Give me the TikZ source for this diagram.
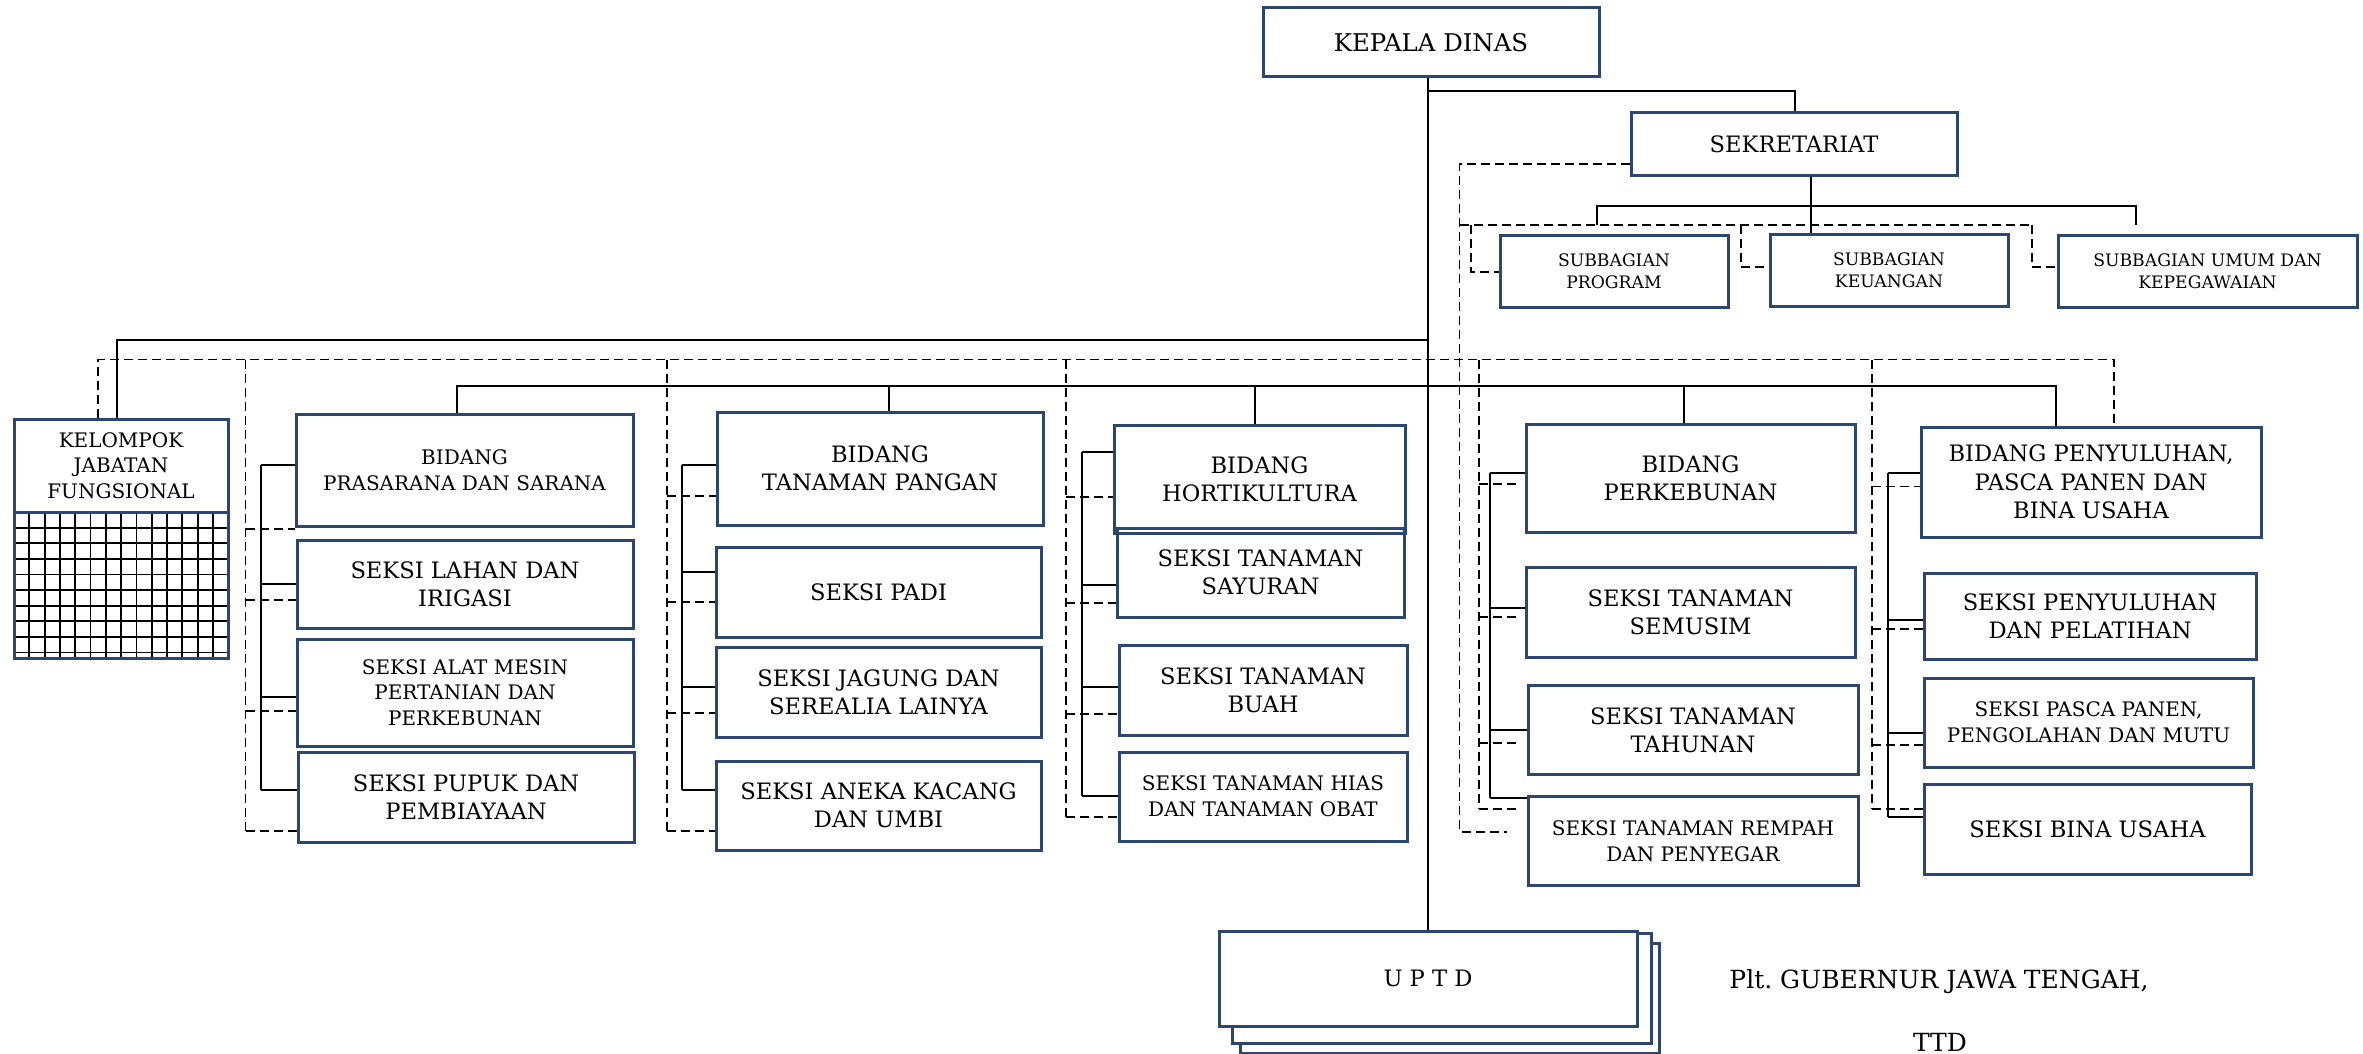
\documentclass[tikz,border=0pt]{standalone}
\usepackage{fontspec}
\setmainfont{DejaVu Serif}
\definecolor{boxblue}{rgb}{0.17,0.28,0.44}

\begin{document}
\begin{tikzpicture}[x=0.5pt,y=-0.5pt,
  box/.style={draw=boxblue,line width=1.5pt,align=center,inner sep=0pt},
  big/.style={font=\fontsize{11.3}{14.2}\selectfont},
  small/.style={font=\fontsize{10}{12.8}\selectfont},
  tiny/.style={font=\fontsize{8.6}{10.8}\selectfont},
  con/.style={line width=1pt},
  dashline/.style={line width=0.9pt,dash pattern=on 4.5pt off 2.5pt}]
  \useasboundingbox (0,0) rectangle (2363,1054);

  % top level
  \node[box,minimum width=168pt,minimum height=34.5pt,font=\fontsize{12.2}{14}\selectfont] (kepala) at (1431,42.5) {KEPALA DINAS};
  \node[box,big,minimum width=163pt,minimum height=31.5pt] (sek) at (1794,144.5) {SEKRETARIAT};
  \node[box,tiny,minimum width=114pt,minimum height=36pt] (program) at (1614,271) {SUBBAGIAN\\PROGRAM};
  \node[box,tiny,minimum width=119pt,minimum height=36pt] (keuangan) at (1889,270) {SUBBAGIAN\\KEUANGAN};
  \node[box,tiny,minimum width=149.5pt,minimum height=36pt] (umum) at (2207.5,271) {SUBBAGIAN UMUM DAN\\KEPEGAWAIAN};

  % kelompok jabatan fungsional
  \node[box,small,minimum width=107pt,minimum height=46.5pt] (kelompok) at (121,465.5) {KELOMPOK\\JABATAN\\FUNGSIONAL};
  \begin{scope}
    \clip (14,512) rectangle (228,658);
    \foreach \i in {1,...,13}
      \draw[line width=0.9pt] (14+\i*15.3,512) -- (14+\i*15.3,658);
    \foreach \j in {1,...,9}
      \draw[line width=0.9pt] (14,512+\j*15.6) -- (228,512+\j*15.6);
  \end{scope}
  \node[box,minimum width=107pt,minimum height=73pt] (kgrid) at (121,585) {};

  % bidang prasarana
  \node[box,small,minimum width=168.5pt,minimum height=56pt] (pp) at (464.5,470) {BIDANG\\PRASARANA DAN SARANA};
  \node[box,big,minimum width=168pt,minimum height=44pt] (lahan) at (465,584) {SEKSI LAHAN DAN\\IRIGASI};
  \node[box,small,minimum width=168pt,minimum height=53.5pt] (alat) at (465,692.5) {SEKSI ALAT MESIN\\PERTANIAN DAN\\PERKEBUNAN};
  \node[box,big,minimum width=168pt,minimum height=45pt] (pupuk) at (466,797) {SEKSI PUPUK DAN\\PEMBIAYAAN};

  % bidang tanaman pangan
  \node[box,big,minimum width=163pt,minimum height=56.5pt] (pangan) at (880,468.5) {BIDANG\\TANAMAN PANGAN};
  \node[box,big,minimum width=162.5pt,minimum height=45pt] (padi) at (878.5,592) {SEKSI PADI};
  \node[box,big,minimum width=162.5pt,minimum height=45pt] (jagung) at (878.5,692) {SEKSI JAGUNG DAN\\SEREALIA LAINYA};
  \node[box,big,minimum width=162.5pt,minimum height=44.5pt] (kacang) at (878.5,805.5) {SEKSI ANEKA KACANG\\DAN UMBI};

  % bidang hortikultura
  \node[box,big,minimum width=145.5pt,minimum height=54pt] (horti) at (1259.5,479) {BIDANG\\HORTIKULTURA};
  \node[box,big,minimum width=143.5pt,minimum height=44.5pt] (sayur) at (1260.5,572.5) {SEKSI TANAMAN\\SAYURAN};
  \node[box,big,minimum width=144pt,minimum height=45pt] (buah) at (1263,690) {SEKSI TANAMAN\\BUAH};
  \node[box,small,minimum width=144pt,minimum height=44.5pt] (hias) at (1263,796.5) {SEKSI TANAMAN HIAS\\DAN TANAMAN OBAT};

  % bidang perkebunan
  \node[box,big,minimum width=164.5pt,minimum height=54pt] (kebun) at (1690.5,478.5) {BIDANG\\PERKEBUNAN};
  \node[box,big,minimum width=164.5pt,minimum height=44.75pt] (semusim) at (1690.5,612.25) {SEKSI TANAMAN\\SEMUSIM};
  \node[box,big,minimum width=165pt,minimum height=44.5pt] (tahunan) at (1693,730) {SEKSI TANAMAN\\TAHUNAN};
  \node[box,small,minimum width=165pt,minimum height=44.5pt] (rempah) at (1693,841) {SEKSI TANAMAN REMPAH\\DAN PENYEGAR};

  % bidang penyuluhan
  \node[box,big,minimum width=170pt,minimum height=55pt] (peny) at (2091,482) {BIDANG PENYULUHAN,\\PASCA PANEN DAN\\BINA USAHA};
  \node[box,big,minimum width=166pt,minimum height=43pt] (pelatihan) at (2090,616) {SEKSI PENYULUHAN\\DAN PELATIHAN};
  \node[box,small,minimum width=164.5pt,minimum height=44.5pt] (pasca) at (2088.5,722.5) {SEKSI PASCA PANEN,\\PENGOLAHAN DAN MUTU};
  \node[box,big,minimum width=163.5pt,minimum height=45pt] (bina) at (2087.5,829) {SEKSI BINA USAHA};

  % uptd
  \node[box,fill=white,minimum width=209.5pt,minimum height=55pt] (uptdc) at (1449.5,998) {};
  \node[box,fill=white,minimum width=209.5pt,minimum height=55pt] (uptdb) at (1441.5,988) {};
  \node[box,big,fill=white,minimum width=209pt,minimum height=47.5pt] (uptd) at (1428,978.5) {U P T D};

  \node[font=\fontsize{12.5}{14}\selectfont] (plt) at (1939,982) {Plt.\ GUBERNUR JAWA TENGAH,};
  \node[font=\fontsize{12.5}{14}\selectfont] (ttd) at (1940,1042) {TTD};

  % lines
  \draw[con] (uptd.north |- kepala.south) -- (uptd.north);
  \draw[con] (uptd.north |- 0,91) -| (1795,0 |- sek.north);
  \draw[con] (1811,0 |- sek.south) -- (1811,0 |- keuangan.north);
  \draw[con] (1597,225) |- (2136,206) -- (2136,225);
  \draw[dashline,shorten >=10pt] (sek.west |- 0,164) -| (1459.5,832) -- (rempah.west |- 0,832);
  \draw[dashline] (1459.5,225) -- (2032,225);
  \draw[dashline] (1471,225) |- (program.west |- 0,272);
  \draw[dashline] (1741,225) |- (keuangan.west |- 0,267);
  \draw[dashline] (2032,225) |- (umum.west |- 0,267);

  \draw[con] (uptd.north |- 0,340) -| (117,0 |- kelompok.north);
  \draw[dashline] (98,0 |- kelompok.north) |- (2114,359.5) -- (2114,0 |- peny.north);
  \draw[con] (457,0 |- pp.north) |- (2056,386) -- (2056,0 |- peny.north);
  \foreach \x/\n in {889/pangan,1255/horti,1684/kebun}
    \draw[con] (\x,386) -- (\x,0 |- \n.north);

  % column 1
  \draw[con] (261,465) -- (261,790);
  \foreach \y/\n in {465/pp,584/lahan,697/alat,790/pupuk}
    \draw[con] (261,\y) -- (\n.west |- 0,\y);
  \draw[dashline] (245.5,359.5) -- (245.5,831);
  \foreach \y/\n in {529/pp,600/lahan,711/alat,831/pupuk}
    \draw[dashline] (245.5,\y) -- (\n.west |- 0,\y);

  % column 2
  \draw[con] (682,464.6) -- (682,790);
  \foreach \y/\n in {464.6/pangan,572/padi,686.6/jagung,790/kacang}
    \draw[con] (682,\y) -- (\n.west |- 0,\y);
  \draw[dashline] (667,359.5) -- (667,831);
  \foreach \y/\n in {496/pangan,602/padi,713/jagung,831/kacang}
    \draw[dashline] (667,\y) -- (\n.west |- 0,\y);

  % column 3
  \draw[con] (1081.6,452) -- (1081.6,796);
  \foreach \y/\n in {452/horti,584.5/sayur,686.6/buah,796/hias}
    \draw[con] (1081.6,\y) -- (\n.west |- 0,\y);
  \draw[dashline] (1066,359.5) -- (1066,817);
  \foreach \y/\n in {497/horti,603/sayur,714/buah,817/hias}
    \draw[dashline] (1066,\y) -- (\n.west |- 0,\y);

  % column 4
  \draw[con] (1490,473) -- (1490,798);
  \foreach \y/\n in {473/kebun,608/semusim,730/tahunan,798/rempah}
    \draw[con] (1490,\y) -- (\n.west |- 0,\y);
  \draw[dashline] (1479,359.5) -- (1479,809);
  \foreach \y/\n in {484/kebun,617/semusim,743/tahunan,809/rempah}
    \draw[dashline,shorten >=4pt] (1479,\y) -- (\n.west |- 0,\y);

  % column 5
  \draw[con] (1888,473) -- (1888,816.7);
  \foreach \y/\n in {473/peny,620.4/pelatihan,733.3/pasca,816.7/bina}
    \draw[con] (1888,\y) -- (\n.west |- 0,\y);
  \draw[dashline] (1872,359.5) -- (1872,809);
  \foreach \y/\n in {486.5/peny,629/pelatihan,745/pasca,809/bina}
    \draw[dashline] (1872,\y) -- (\n.west |- 0,\y);
\end{tikzpicture}
\end{document}
